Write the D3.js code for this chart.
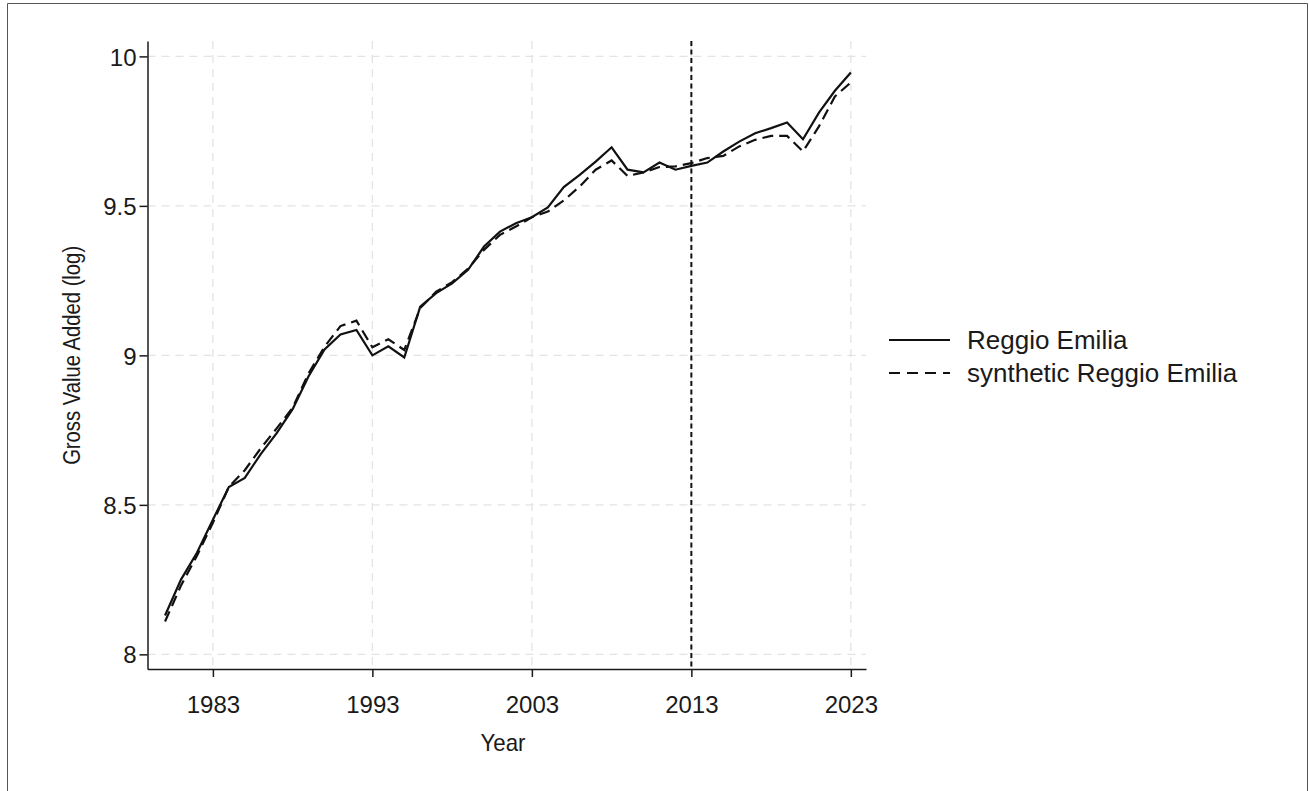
<!DOCTYPE html>
<html>
<head>
<meta charset="utf-8">
<script src="https://cdn.jsdelivr.net/npm/d3@7"></script>
<style>
  body { margin: 0; background: #fff; }
  text { font-family: "Liberation Sans", Arial, sans-serif; fill: #1a1a1a; }
</style>
</head>
<body>
<div id="chart"></div>
<script>
let w = 1309,
    h = 791;

// data
let years = d3.range(1980, 2024);
let reggio = [8.13, 8.25, 8.34, 8.45, 8.56, 8.59, 8.67, 8.74, 8.82, 8.93,
              9.02, 9.07, 9.085, 9.0, 9.03, 8.993, 9.163, 9.208, 9.241, 9.286,
              9.364, 9.414, 9.442, 9.462, 9.495, 9.563, 9.604, 9.648, 9.696, 9.621,
              9.612, 9.645, 9.621, 9.634, 9.645, 9.682, 9.715, 9.743, 9.76, 9.779,
              9.723, 9.812, 9.885, 9.946];
let synthetic = [8.11, 8.23, 8.33, 8.44, 8.56, 8.616, 8.689, 8.756, 8.825, 8.94,
                 9.029, 9.098, 9.116, 9.027, 9.054, 9.018, 9.158, 9.213, 9.245, 9.29,
                 9.353, 9.403, 9.431, 9.462, 9.481, 9.518, 9.565, 9.621, 9.652, 9.6,
                 9.612, 9.63, 9.632, 9.643, 9.66, 9.667, 9.699, 9.721, 9.734, 9.734,
                 9.682, 9.766, 9.866, 9.913];
let xTicks = [1983, 1993, 2003, 2013, 2023];
let yTicks = [8, 8.5, 9, 9.5, 10];
let yTickLabels = ["8", "8.5", "9", "9.5", "10"];
let treatYear = 2013;
let seriesNames = ["Reggio Emilia", "synthetic Reggio Emilia"];

let plot = { left: 147.5, right: 866, top: 41, bottom: 669 };

let svg = d3.select("#chart")
            .append("svg")
            .attr("width", w)
            .attr("height", h);

// outer frame
svg.append("path")
   .attr("d", "M7.5,791 V3.5 H1307.5 V791")
   .attr("fill", "none")
   .attr("stroke", "#555")
   .attr("stroke-width", 1);

let x = d3.scaleLinear()
          .domain([1978.9, 2023.95])
          .range([plot.left, plot.right]);

let y = d3.scaleLinear()
          .domain([7.951, 10.0515])
          .range([plot.bottom, plot.top]);

// gridlines
svg.append("g")
   .selectAll("line")
   .data(yTicks)
   .enter()
   .append("line")
   .attr("x1", plot.left)
   .attr("x2", plot.right)
   .attr("y1", d => y(d))
   .attr("y2", d => y(d))
   .attr("stroke", "#e3e3e3")
   .attr("stroke-width", 1.3)
   .attr("stroke-dasharray", "8,6");

svg.append("g")
   .selectAll("line")
   .data(xTicks)
   .enter()
   .append("line")
   .attr("x1", d => x(d))
   .attr("x2", d => x(d))
   .attr("y1", plot.top)
   .attr("y2", plot.bottom)
   .attr("stroke", "#e3e3e3")
   .attr("stroke-width", 1.3)
   .attr("stroke-dasharray", "8,6");

// axes
let xAxis = svg.append("g")
   .attr("transform", "translate(0," + plot.bottom + ")")
   .call(d3.axisBottom(x).tickValues(xTicks).tickFormat(d3.format("d")).tickSize(8).tickSizeOuter(0));

let yAxis = svg.append("g")
   .attr("transform", "translate(" + plot.left + ",0)")
   .call(d3.axisLeft(y).tickValues(yTicks).tickFormat((d, i) => yTickLabels[i]).tickSize(8).tickSizeOuter(0));

[xAxis, yAxis].forEach(a => {
  a.select(".domain").attr("stroke", "#1a1a1a").attr("stroke-width", 1.5);
  a.selectAll(".tick line").attr("stroke", "#1a1a1a").attr("stroke-width", 1.5);
  a.selectAll(".tick text")
   .style("font-family", "'Liberation Sans', Arial, sans-serif")
   .style("font-size", "24px")
   .attr("fill", "#1a1a1a");
});
xAxis.selectAll(".tick text").attr("dy", null).attr("y", 44);
yAxis.selectAll(".tick text").attr("x", -11).attr("dy", "0.36em");

// axis titles
svg.append("text")
   .attr("x", 503)
   .attr("y", 751)
   .attr("text-anchor", "middle")
   .style("font-size", "24px")
   .attr("textLength", 45)
   .attr("lengthAdjust", "spacingAndGlyphs")
   .text("Year");

svg.append("text")
   .attr("transform", "translate(80," + y(9) + ") rotate(-90)")
   .attr("text-anchor", "middle")
   .style("font-size", "23px")
   .attr("textLength", 219)
   .attr("lengthAdjust", "spacingAndGlyphs")
   .text("Gross Value Added (log)");

// treatment line
svg.append("line")
   .attr("x1", x(treatYear))
   .attr("x2", x(treatYear))
   .attr("y1", plot.top)
   .attr("y2", plot.bottom)
   .attr("stroke", "#111")
   .attr("stroke-width", 2)
   .attr("stroke-dasharray", "5,3.5");

// series
let line = d3.line()
             .x((d, i) => x(years[i]))
             .y(d => y(d));

svg.append("path")
   .datum(synthetic)
   .attr("d", line)
   .attr("fill", "none")
   .attr("stroke", "#111")
   .attr("stroke-width", 2.2)
   .attr("stroke-dasharray", "11,6");

svg.append("path")
   .datum(reggio)
   .attr("d", line)
   .attr("fill", "none")
   .attr("stroke", "#111")
   .attr("stroke-width", 2.2);

// legend
let legend = svg.append("g");
let dashes = [null, "11,7"];
seriesNames.forEach((name, i) => {
  let ly = 340 + i * 33;
  legend.append("line")
        .attr("x1", 889)
        .attr("x2", 950)
        .attr("y1", ly)
        .attr("y2", ly)
        .attr("stroke", "#111")
        .attr("stroke-width", 2.2)
        .attr("stroke-dasharray", dashes[i]);
  legend.append("text")
        .attr("x", 967)
        .attr("y", ly + 9)
        .style("font-size", "26px")
        .text(name);
});
</script>
</body>
</html>
